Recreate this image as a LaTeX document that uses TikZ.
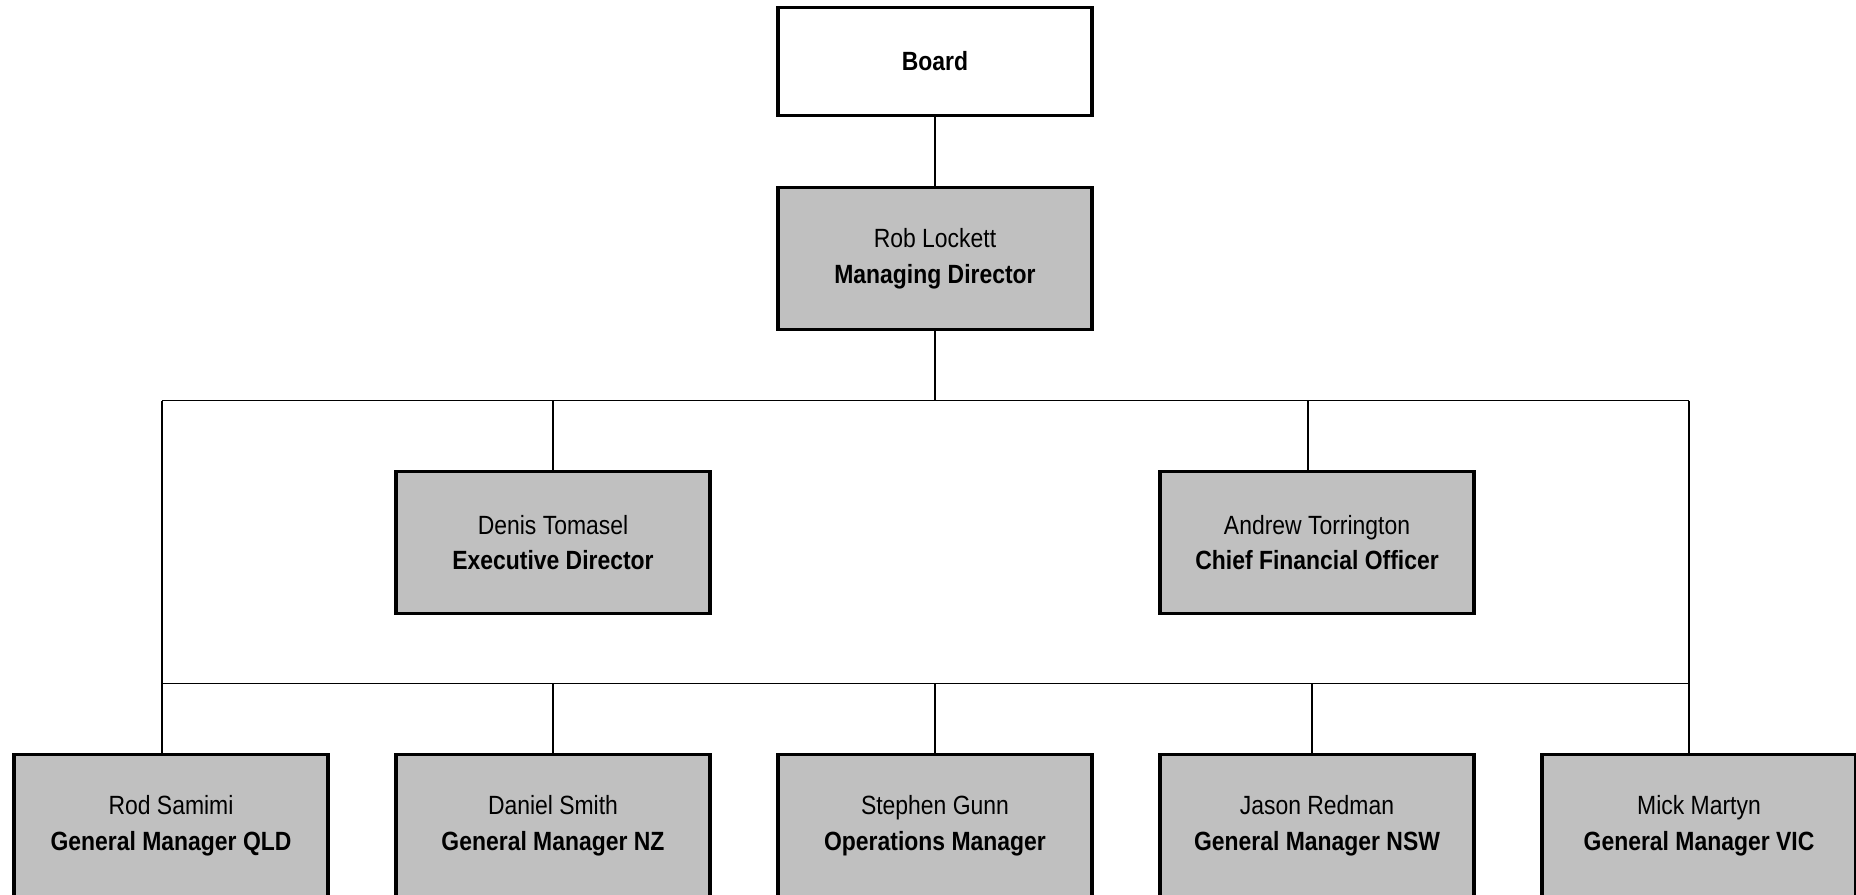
\documentclass[tikz,border=0pt]{standalone}
\usepackage{fontspec}
\setmainfont{Liberation Sans}[FakeStretch=0.87]
\usepackage{xcolor}
\usepackage{tikz}
\usetikzlibrary{positioning, calc}
\definecolor{boxgray}{RGB}{192,192,192}

\begin{document}
\begin{tikzpicture}[
            node distance=1.41cm and 0.68cm,
            box/.style={draw, rectangle, line width=0.9pt, fill=boxgray, minimum width=3.14cm, minimum height=1.42cm, inner sep=0pt, outer sep=0pt, align=center, font=\fontsize{7.5}{10.1}\selectfont},
            link/.style={line width=0.45pt}
        ]
            \path[use as bounding box, clip] (0,0) rectangle (18.56,-8.94);

            % Board and MD
            \node[box, fill=white, minimum height=1.08cm] (board) at (9.35,-0.615) {\textbf{Board}};
            \node[box, below=0.72cm of board] (MD) {Rob Lockett\\\textbf{Managing Director}};

            % bottom row
            \node[box, below=4.25cm of MD] (Ops) {Stephen Gunn\\\textbf{Operations Manager}};
            \node[box, left=of Ops] (NZ) {Daniel Smith\\\textbf{General Manager NZ}};
            \node[box, left=of NZ] (QLD) {Rod Samimi\\\textbf{General Manager QLD}};
            \node[box, right=of Ops] (NSW) {Jason Redman\\\textbf{General Manager NSW}};
            \node[box, right=of NSW] (VIC) {Mick Martyn\\\textbf{General Manager VIC}};

            % directors
            \node[box, above=of NZ] (ED) {Denis Tomasel\\\textbf{Executive Director}};
            \node[box, above=of NSW] (CFO) {Andrew Torrington\\\textbf{Chief Financial Officer}};

            % bus points
            \coordinate (busT) at ([yshift=-0.71cm]MD.south);
            \coordinate (busB) at ([yshift=0.71cm]Ops.north);
            \coordinate (dropL) at ([xshift=-0.09cm]QLD.north);
            \coordinate (dropR) at ([xshift=-0.10cm]VIC.north);
            \coordinate (dropC) at ([xshift=-0.09cm]CFO.north);
            \coordinate (dropN) at ([xshift=-0.05cm]NSW.north);

            % Edges
            \draw[link] (board) -- (MD);
            \draw[link] (MD) -- (busT);
            \draw[link] (busT -| dropL) -- (busT -| dropR);
            \draw[link] (busB -| dropL) -- (busB -| dropR);
            \draw[link] (busT -| dropL) -- (dropL);
            \draw[link] (busT -| dropR) -- (dropR);
            \draw[link] (ED) -- (ED |- busT);
            \draw[link] (dropC) -- (dropC |- busT);
            \draw[link] (dropN) -- (dropN |- busB);
            \foreach \n in {NZ, Ops}
                \draw[link] (\n) -- (\n |- busB);
        \end{tikzpicture}
\end{document}
